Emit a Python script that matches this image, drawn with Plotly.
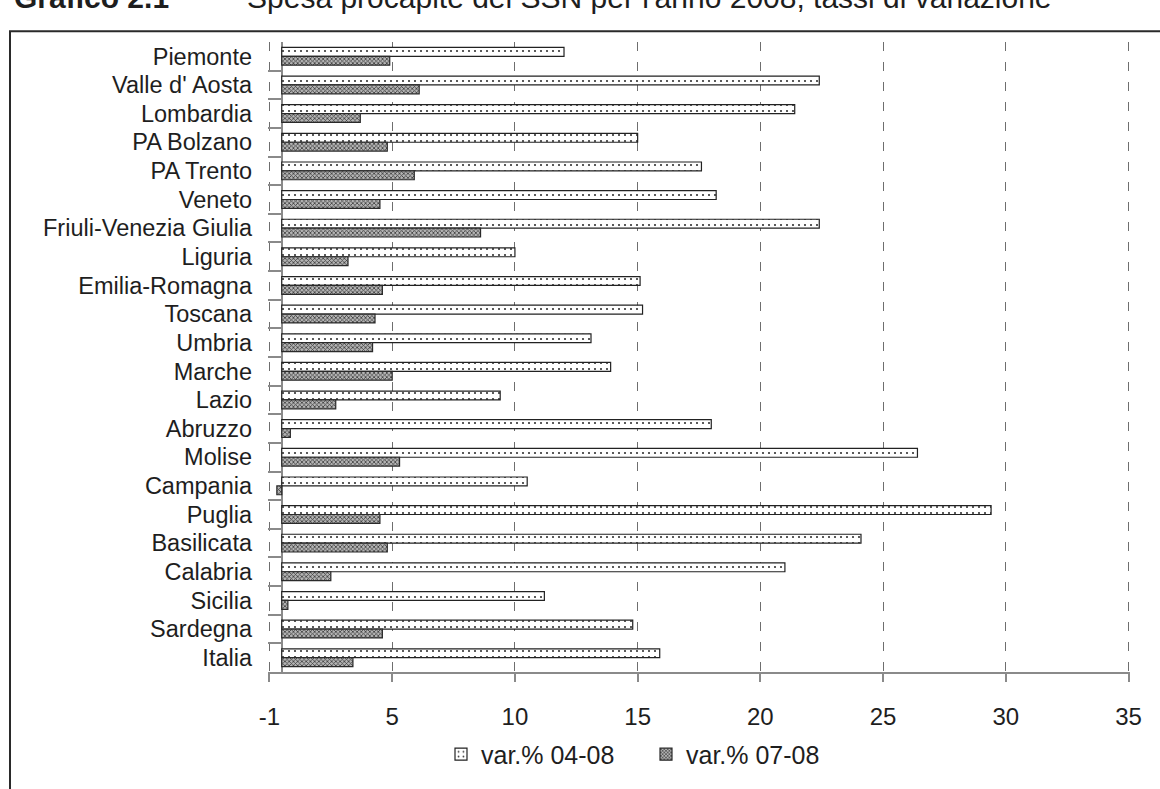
import plotly.graph_objects as go

# Regional per-capita health spending, growth rates (%)
regions = [
    "Piemonte", "Valle d' Aosta", "Lombardia", "PA Bolzano", "PA Trento",
    "Veneto", "Friuli-Venezia Giulia", "Liguria", "Emilia-Romagna", "Toscana",
    "Umbria", "Marche", "Lazio", "Abruzzo", "Molise", "Campania", "Puglia",
    "Basilicata", "Calabria", "Sicilia", "Sardegna", "Italia",
]
var_04_08 = [
    11.5, 21.9, 20.9, 14.5, 17.1, 17.7, 21.9, 9.5, 14.6, 14.7, 12.6,
    13.4, 8.9, 17.5, 25.9, 10.0, 28.9, 23.6, 20.5, 10.7, 14.3, 15.4,
]
var_07_08 = [
    4.4, 5.6, 3.2, 4.3, 5.4, 4.0, 8.1, 2.7, 4.1, 3.8, 3.7,
    4.5, 2.2, 0.35, 4.8, -0.2, 4.0, 4.3, 2.0, 0.25, 4.1, 2.9,
]
series_names = ["var.% 04-08", "var.% 07-08"]

# x ticks sit half a unit below the labelled integers (labels are rounded)
tick_vals = [-0.5, 4.5, 9.5, 14.5, 19.5, 24.5, 29.5, 34.5]
tick_text = ["-1", "5", "10", "15", "20", "25", "30", "35"]

FONT = "Liberation Sans, Arial, sans-serif"
INK = "#1e1e1e"
AXIS_GRAY = "#8a8a8a"

fig = go.Figure()
fig.add_trace(go.Bar(
    y=regions, x=var_04_08, name=series_names[0], orientation="h",
    marker=dict(
        color="white",
        line=dict(color="#222222", width=1.2),
        pattern=dict(shape=".", fgcolor="#333333", bgcolor="white",
                     size=6, solidity=0.1, fillmode="replace"),
    ),
))
fig.add_trace(go.Bar(
    y=regions, x=var_07_08, name=series_names[1], orientation="h",
    marker=dict(
        color="#8a8a8a",
        line=dict(color="#2a2a2a", width=1.2),
        pattern=dict(shape="x", fgcolor="#3c3c3c", bgcolor="#b4b4b4",
                     size=3, solidity=0.45, fillmode="replace"),
    ),
))

W, H = 1160, 789
ML, MR, MT, MB = 268, 30, 42, 105
plot_h = H - MT - MB

def py(pixel_y):
    """Paper y coordinate for a pixel row of the page."""
    return (H - MB - pixel_y) / plot_h

def px(pixel_x):
    """Paper x coordinate for a pixel column of the page."""
    return (pixel_x - ML) / (W - ML - MR)

# open frame: left and top edges of the figure box
fx0, fy0 = px(10), py(31)
frame_path = f"M {fx0} {py(820)} L {fx0} {fy0} L {px(1200)} {fy0}"

fig.update_layout(
    width=W, height=H,
    margin=dict(l=ML, r=MR, t=MT, b=MB, pad=0),
    paper_bgcolor="white", plot_bgcolor="white",
    barmode="group", bargap=0.38, bargroupgap=0,
    font=dict(family=FONT, size=18, color=INK),
    showlegend=True,
    legend=dict(
        orientation="h", x=px(441), xanchor="left", y=py(768), yanchor="middle",
        font=dict(family=FONT, size=25, color=INK),
        itemwidth=30, tracegroupgap=0, bgcolor="rgba(0,0,0,0)",
        entrywidth=160,
    ),
    xaxis=dict(
        range=[-0.56, 34.56], tickmode="array", tickvals=tick_vals, ticktext=tick_text,
        showgrid=True, gridcolor="#6e6e6e", gridwidth=1, griddash="9px,11px",
        zeroline=True, zerolinecolor=AXIS_GRAY, zerolinewidth=1.5,
        showline=True, linecolor=AXIS_GRAY, linewidth=1.5,
        ticks="outside", ticklen=8, tickcolor=AXIS_GRAY, tickwidth=1.5,
        ticklabelstandoff=14,
        tickfont=dict(family=FONT, size=24, color=INK),
        fixedrange=True,
    ),
    yaxis=dict(
        autorange="reversed", type="category",
        showgrid=False, showline=False, zeroline=False,
        ticks="inside", ticklen=13, tickcolor=AXIS_GRAY, tickwidth=1.5,
        tickson="boundaries", ticklabelstandoff=15,
        tickfont=dict(family=FONT, size=23.5, color=INK),
        fixedrange=True,
    ),
    shapes=[
        dict(type="path", xref="paper", yref="paper", path=frame_path,
             line=dict(color="#2a2a2a", width=2), layer="below"),
    ],
    annotations=[
        dict(text="<b>Grafico 2.1</b>", xref="paper", yref="paper",
             x=px(12), xanchor="left", y=py(15), yanchor="bottom",
             showarrow=False, font=dict(family=FONT, size=30, color=INK)),
        dict(text="Spesa procapite del SSN per l'anno 2008; tassi di variazione",
             xref="paper", yref="paper",
             x=px(245), xanchor="left", y=py(15), yanchor="bottom",
             showarrow=False, font=dict(family=FONT, size=30, color=INK)),
    ],
)

fig.write_html("out.html")
